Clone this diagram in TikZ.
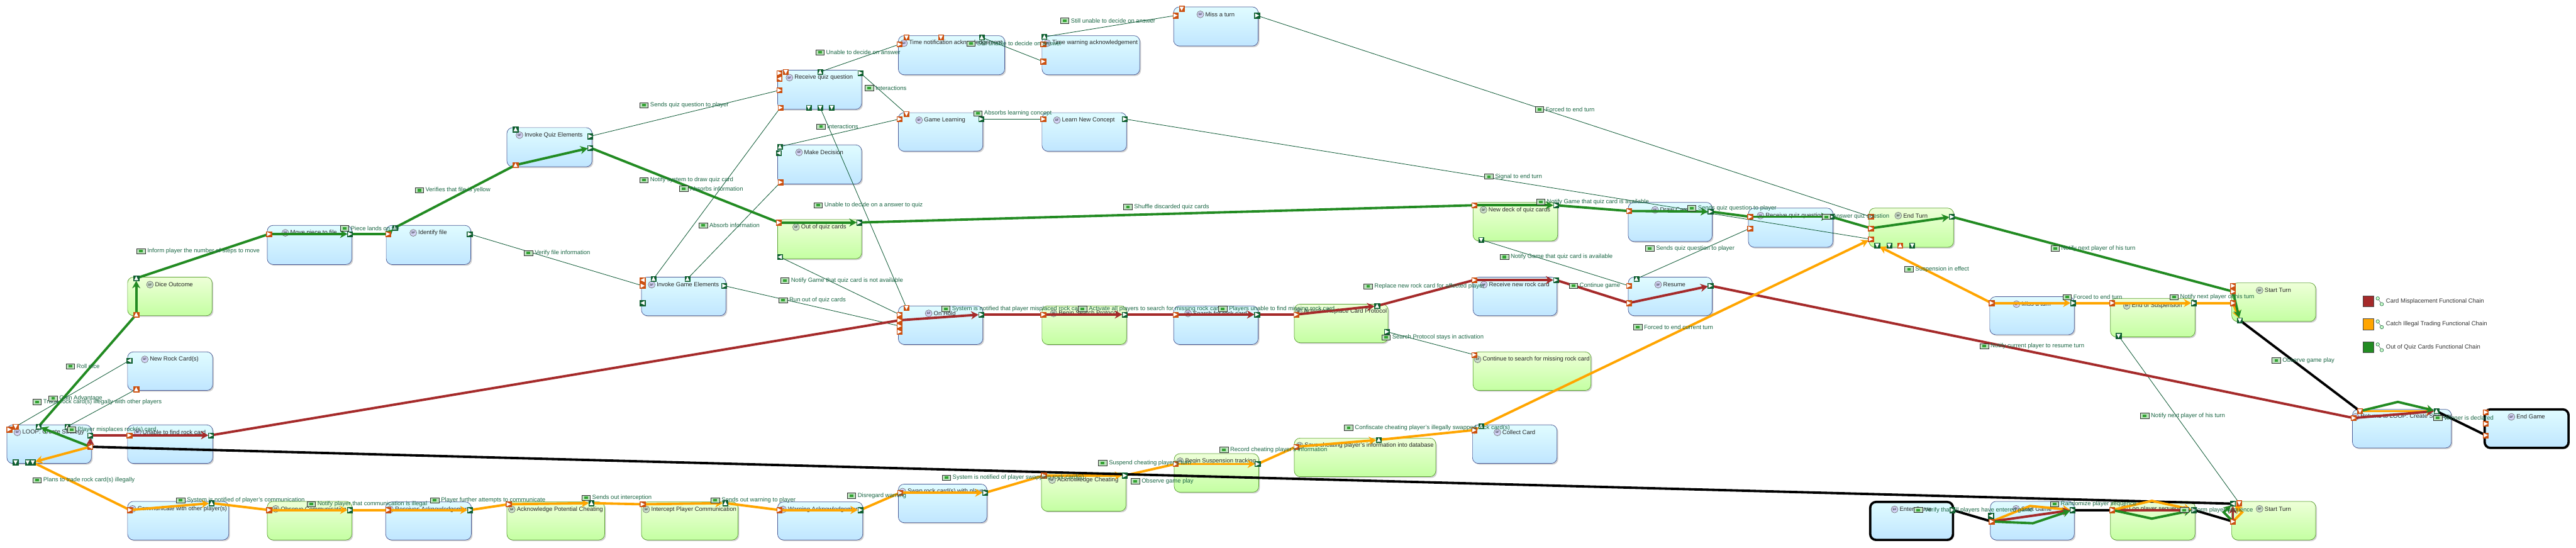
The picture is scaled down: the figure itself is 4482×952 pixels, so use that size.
\documentclass[tikz,border=0pt]{standalone}
\usepackage{fontspec}
\setmainfont{Liberation Sans}
\usetikzlibrary{arrows.meta,shadows}
\definecolor{cbrown}{HTML}{A52A2A}
\definecolor{corange}{HTML}{FFA500}
\definecolor{cgreen}{HTML}{228B22}
\definecolor{ctxt}{HTML}{1A6644}
\definecolor{cthin}{HTML}{0E5A35}
\definecolor{cpout}{HTML}{0F5F30}
\definecolor{cpin}{HTML}{CC5010}
\definecolor{DBFBFF}{HTML}{E0FCFF}
\definecolor{BDE3FF}{HTML}{C0E6FF}
\definecolor{EAFFD2}{HTML}{EEFFD8}
\definecolor{BEFF98}{HTML}{C4FFA2}
\definecolor{cbluebd}{HTML}{4A5A96}
\definecolor{cgreenbd}{HTML}{5CA232}
\definecolor{ciconf}{HTML}{8FCF8F}
\pgfdeclarelayer{bg}\pgfdeclarelayer{fg}\pgfsetlayers{bg,main,fg}
\newcounter{lb}
\tikzset{
 boxbase/.style={rectangle,inner sep=0pt,rounded corners=5pt,line width=.4pt,drop shadow={shadow xshift=1.1pt,shadow yshift=-1.1pt,opacity=.18,fill=black}},
 boxb/.style={boxbase,draw=cbluebd,top color=DBFBFF,bottom color=BDE3FF},
 boxg/.style={boxbase,draw=cgreenbd,top color=EAFFD2,bottom color=BEFF98},
 boxk/.style={boxb,draw=black,line width=2pt},
 titletxt/.style={inner sep=0pt,font=\fontsize{5.2}{6}\selectfont,text=black!85},
 sficon/.style={circle,draw=black!60,fill=black!25!blue!18!white,inner sep=0pt,minimum size=6pt,line width=.3pt,font=\fontsize{2.6}{3}\selectfont},
 sficong/.style={sficon,fill=green!35!black!22!white},
 portin/.style={rectangle,draw=cpin,fill=cpin,minimum size=4.5pt,inner sep=0pt,line width=.2pt},
 portout/.style={rectangle,draw=cpout,fill=cpout,minimum size=4.5pt,inner sep=0pt,line width=.2pt},
 lbltxt/.style={anchor=west,inner sep=0pt,font=\fontsize{5.2}{6}\selectfont,text=ctxt},
 lblicon/.style={rectangle,draw=black!80,fill=ciconf!60!white,minimum width=7.4pt,minimum height=4.6pt,inner sep=0pt,line width=.35pt},
 thinedge/.style={line width=.45pt,color=cthin},
 chk/.style={line width=2.1pt,color=#1,line join=miter},
 chka/.style={chk=#1,-{Stealth[length=6.5pt,width=7pt]},shorten >=2.2pt},
}
% box: name, style, x1,y1,x2,y2, title, icon style
\newcommand{\bx}[8]{%
 \pgfmathsetmacro{\bw}{(#5-#3)/2}\pgfmathsetmacro{\bh}{(#6-#4)/2}%
 \pgfmathsetmacro{\cxx}{(#3+#5)/2}\pgfmathsetmacro{\cyy}{(#4+#6)/2}\pgfmathsetmacro{\tyy}{#4+13}%
 \begin{pgfonlayer}{bg}
 \node[#2,minimum width=\bw pt,minimum height=\bh pt] (#1) at (\cxx,\cyy) {};
 \node[titletxt] (#1t) at (\cxx,\tyy) {\hspace*{7.2pt}#7};
 \node[#8] (#1i) at ([xshift=3pt]#1t.west) {SF};
 \end{pgfonlayer}}
\newcommand{\pp}[5]{% name x y type angle
 \begin{pgfonlayer}{fg}
 \node[port#4] (#1) at (#2,#3) {};
 \fill[white,shift={(#2,#3)},rotate=#5] (-1.7pt,1.8pt) -- (1.9pt,0pt) -- (-1.7pt,-1.8pt) -- cycle;
 \end{pgfonlayer}}
\newcommand{\lab}[3]{%
 \stepcounter{lb}\pgfmathsetmacro{\lxx}{#1+7.5}\pgfmathsetmacro{\lxt}{#1+18}%
 \begin{pgfonlayer}{fg}
 \node[lblicon] (li\thelb) at (\lxx,#2) {};
 \fill[green!55!black!80!white] (\lxx,#2) ++(-1.6pt,-1.1pt) rectangle ++(3.2pt,2.2pt);
 \node[lbltxt] (lt\thelb) at (\lxt,#2) {#3};
 \end{pgfonlayer}}
\newcommand{\tn}[2]{\draw[thinedge] (#1.center) -- (#2.center);}
\newcommand{\ck}[3]{\draw[chk=#1] (#2.center) -- (#3.center);}
\newcommand{\ca}[3]{\draw[chka=#1] (#2.center) -- (#3.center);}
\begin{document}
\begin{tikzpicture}[x=.5pt,y=-.5pt]
\useasboundingbox (0,0) rectangle (4482,952);
\begin{pgfonlayer}{bg}
\fill[white] (0,0) rectangle (4482,952);
\end{pgfonlayer}
% ---------- boxes
\bx{bLoop}{boxb}{12}{739}{159}{806}{LOOP: Create Strategy}{sficon}
\bx{bUnable}{boxb}{222}{739}{370}{806}{Unable to find rock card}{sficon}
\bx{bNew}{boxb}{222}{612}{370}{679}{New Rock Card(s)}{sficon}
\bx{bDice}{boxg}{222}{482}{369}{549}{Dice Outcome}{sficong}
\bx{bComm}{boxb}{222}{872}{398}{939}{Communicate with other player(s)}{sficon}
\bx{bObs}{boxg}{465}{872}{612}{939}{Observe Communication}{sficong}
\bx{bRecA}{boxb}{671}{873}{820}{939}{Receives Acknowledgement}{sficon}
\bx{bAckP}{boxg}{882}{873}{1052}{939}{Acknowledge Potential Cheating}{sficong}
\bx{bInt}{boxg}{1116}{873}{1284}{939}{Intercept Player Communication}{sficong}
\bx{bWarn}{boxb}{1353}{873}{1501}{939}{Warning Acknowledgement}{sficon}
\bx{bSwap}{boxb}{1563}{842}{1717}{909}{Swap rock card(s) with player}{sficon}
\bx{bAckC}{boxg}{1812}{822}{1959}{889}{Acknowledge Cheating}{sficong}
\bx{bSusp}{boxg}{2043}{789}{2190}{856}{Begin Suspension tracking}{sficong}
\bx{bSave}{boxg}{2252}{762}{2498}{829}{Save cheating player's information into database}{sficong}
\bx{bColl}{boxb}{2562}{739}{2709}{806}{Collect Card}{sficon}
\bx{bMove}{boxb}{465}{392}{612}{460}{Move piece to file}{sficon}
\bx{bIdent}{boxb}{672}{392}{819}{460}{Identify file}{sficon}
\bx{bQuiz}{boxb}{882}{222}{1030}{290}{Invoke Quiz Elements}{sficon}
\bx{bGame}{boxb}{1116}{482}{1263}{549}{Invoke Game Elements}{sficon}
\bx{bDecide}{boxb}{1353}{252}{1499}{320}{Make Decision}{sficon}
\bx{bOut}{boxg}{1353}{382}{1499}{450}{Out of quiz cards}{sficong}
\bx{bRecQ}{boxb}{1353}{122}{1499}{190}{Receive quiz question}{sficon}
\bx{bTime}{boxb}{1563}{62}{1748}{130}{Time notification acknowledgement}{sficon}
\bx{bLearnG}{boxb}{1563}{196}{1710}{263}{Game Learning}{sficon}
\bx{bTimeW}{boxb}{1813}{62}{1983}{130}{Time warning acknowledgement}{sficon}
\bx{bLearn}{boxb}{1813}{196}{1960}{263}{Learn New Concept}{sficon}
\bx{bMiss}{boxb}{2042}{12}{2189}{80}{Miss a turn}{sficon}
\bx{bHold}{boxb}{1563}{532}{1710}{599}{On Hold}{sficon}
\bx{bSearchP}{boxg}{1813}{532}{1960}{599}{Begin Search Protocol}{sficong}
\bx{bSearch}{boxb}{2042}{532}{2189}{599}{Search for rock card}{sficon}
\bx{bRepl}{boxg}{2252}{529}{2415}{596}{Activate Replace Card Protocol}{sficong}
\bx{bRecv}{boxb}{2563}{482}{2709}{549}{Receive new rock card}{sficon}
\bx{bCont}{boxg}{2563}{612}{2768}{679}{Continue to search for missing rock card}{sficong}
\bx{bDeck}{boxg}{2563}{352}{2710}{419}{New deck of quiz cards}{sficong}
\bx{bRes}{boxb}{2833}{482}{2979}{549}{Resume}{sficon}
\bx{bDraw}{boxb}{2833}{352}{2979}{420}{Draw Card}{sficon}
\bx{bRecQb}{boxb}{3042}{362}{3189}{430}{Receive quiz question}{sficon}
\bx{bEnd}{boxg}{3252}{362}{3399}{430}{End Turn}{sficong}
\bx{bMissb}{boxb}{3462}{516}{3609}{582}{Miss a turn}{sficon}
\bx{bEoS}{boxg}{3672}{519}{3819}{586}{End of Suspension}{sficong}
\bx{bStart}{boxg}{3883}{492}{4029}{559}{Start Turn}{sficong}
\bx{bRet}{boxb}{4093}{712}{4265}{779}{Returns to LOOP: Create Strategy}{sficon}
\bx{bEndG}{boxk}{4323}{712}{4469}{779}{End Game}{sficon}
\bx{bEnter}{boxk}{3254}{873}{3398}{939}{Enter Game}{sficon}
\bx{bSG}{boxb}{3463}{872}{3609}{939}{Start Game}{sficon}
\bx{bLog}{boxg}{3672}{872}{3819}{939}{Log player sequence}{sficong}
\bx{bStartb}{boxg}{3883}{872}{4029}{939}{Start Turn}{sficong}
% ---------- ports
\pp{La}{16}{747}{in}{0}\pp{Lb}{27}{742}{in}{-90}\pp{Lc}{67}{742}{out}{90}\pp{Ld}{117}{742}{out}{90}
\pp{Le}{157}{757}{out}{0}\pp{Lf}{157}{777}{in}{180}\pp{Lg}{27}{804}{out}{-90}\pp{Lh}{48}{804}{out}{-90}\pp{Li}{57}{804}{out}{-90}
\pp{Ua}{225}{757}{in}{0}\pp{Ub}{367}{757}{out}{0}
\pp{Na}{225}{627}{out}{180}\pp{Nb}{237}{677}{in}{90}
\pp{Da}{237}{547}{in}{90}\pp{Db}{237}{484}{out}{90}
\pp{Ca}{226}{887}{in}{0}\pp{Cb}{368}{875}{out}{90}
\pp{Oa}{468}{887}{in}{0}\pp{Ob}{609}{887}{out}{0}
\pp{Ra}{675}{887}{in}{0}\pp{Rb}{818}{887}{out}{0}
\pp{Pa}{885}{877}{in}{0}\pp{Pb}{1029}{875}{out}{90}
\pp{Ia}{1118}{877}{in}{0}\pp{Ib}{1262}{875}{out}{90}
\pp{Wa}{1356}{887}{in}{0}\pp{Wb}{1497}{887}{out}{0}
\pp{Sa}{1566}{857}{in}{0}\pp{Sb}{1714}{857}{out}{0}
\pp{Aa}{1816}{827}{in}{0}\pp{Ab}{1957}{827}{out}{0}
\pp{Ta}{2045}{807}{in}{0}\pp{Tb}{2188}{807}{out}{0}
\pp{Va}{2255}{777}{in}{0}\pp{Vb}{2399}{765}{out}{90}
\pp{Ka}{2565}{748}{in}{0}\pp{Kb}{2577}{741}{out}{90}
\pp{Ma}{468}{407}{in}{0}\pp{Mb}{609}{407}{out}{0}
\pp{Ea}{675}{407}{in}{0}\pp{Eb}{687}{396}{out}{90}\pp{Ec}{817}{407}{out}{0}
\pp{Qa}{897}{287}{in}{90}\pp{Qb}{1027}{257}{out}{0}\pp{Qc}{1027}{237}{out}{0}\pp{Qd}{897}{225}{out}{90}
\pp{Ga}{1118}{487}{in}{180}\pp{Gb}{1118}{497}{in}{0}\pp{Gc}{1137}{485}{out}{90}\pp{Gd}{1196}{485}{out}{90}\pp{Ge}{1118}{527}{out}{180}\pp{Gf}{1260}{497}{out}{0}
\pp{Xa}{1355}{387}{in}{0}\pp{Xb}{1495}{387}{out}{0}\pp{Xc}{1357}{447}{out}{180}
\pp{Ya}{1357}{255}{out}{90}\pp{Yb}{1355}{266}{out}{180}\pp{Yc}{1358}{317}{in}{0}
\pp{Za}{1356}{127}{in}{0}\pp{Zb}{1356}{137}{in}{180}\pp{Zc}{1356}{157}{in}{0}\pp{Zd}{1358}{187}{in}{0}\pp{Ze}{1367}{125}{in}{-90}
\pp{Zf}{1427}{125}{out}{90}\pp{Zg}{1497}{127}{out}{0}\pp{Zh}{1407}{187}{out}{-90}\pp{Zi}{1427}{187}{out}{-90}\pp{Zj}{1447}{187}{out}{-90}
\pp{Bz}{1565}{77}{in}{0}\pp{By}{1577}{65}{in}{-90}\pp{Bx}{1637}{65}{in}{-90}\pp{Bw}{1708}{65}{out}{90}
\pp{Cz}{1815}{107}{in}{0}\pp{Cy}{1815}{77}{in}{0}\pp{Cx}{1817}{64}{out}{90}
\pp{Mc}{2045}{27}{in}{0}\pp{Md}{2056}{15}{in}{-90}\pp{Me}{2187}{27}{out}{0}
\pp{Fa}{1577}{198}{in}{-90}\pp{Fb}{1565}{207}{in}{0}\pp{Fc}{1707}{207}{out}{0}
\pp{Ja}{1815}{207}{in}{0}\pp{Jb}{1957}{207}{out}{0}
\pp{Ha}{1565}{547}{in}{0}\pp{Hb}{1565}{557}{in}{0}\pp{Hc}{1565}{567}{in}{0}\pp{Hd}{1565}{577}{in}{0}\pp{He}{1577}{535}{in}{-90}\pp{Hf}{1707}{547}{out}{0}
\pp{Aq}{1815}{547}{in}{0}\pp{Ar}{1957}{547}{out}{0}
\pp{As}{2045}{547}{in}{0}\pp{At}{2187}{547}{out}{0}
\pp{Au}{2255}{547}{in}{0}\pp{Av}{2396}{532}{out}{90}\pp{Aw}{2413}{577}{out}{0}
\pp{Bq}{2565}{487}{in}{0}\pp{Br}{2707}{487}{out}{0}
\pp{Bs}{2565}{617}{in}{0}
\pp{Dc}{2565}{357}{in}{0}\pp{Dd}{2707}{357}{out}{0}\pp{De}{2577}{417}{out}{-90}
\pp{Dr}{2834}{367}{in}{0}\pp{Ds}{2976}{368}{out}{0}
\pp{Rc}{2834}{497}{in}{0}\pp{Rd}{2834}{527}{in}{0}\pp{Re}{2847}{485}{out}{90}\pp{Rf}{2976}{497}{out}{0}
\pp{Qe}{3045}{377}{in}{0}\pp{Qf}{3045}{397}{in}{0}\pp{Qg}{3186}{377}{out}{0}
\pp{Ef}{3255}{377}{in}{0}\pp{Eg}{3255}{397}{in}{0}\pp{Eh}{3255}{416}{in}{0}\pp{Ei}{3396}{377}{out}{0}
\pp{Ej}{3266}{427}{out}{-90}\pp{Ek}{3287}{427}{out}{-90}\pp{El}{3306}{427}{in}{90}\pp{Em}{3327}{427}{out}{-90}
\pp{Ms}{3465}{527}{in}{0}\pp{Mt}{3607}{527}{out}{0}
\pp{Sc}{3675}{527}{in}{0}\pp{Sd}{3817}{527}{out}{0}\pp{Se}{3686}{584}{out}{-90}
\pp{Tc}{3885}{497}{in}{0}\pp{Td}{3885}{507}{in}{0}\pp{Te}{3885}{527}{in}{0}\pp{Tf}{3897}{557}{out}{-90}
\pp{Rg}{4095}{727}{in}{0}\pp{Rh}{4106}{715}{in}{-90}\pp{Ri}{4239}{715}{out}{90}
\pp{Ga2}{4325}{717}{in}{0}\pp{Gb2}{4325}{737}{in}{0}\pp{Gc2}{4325}{757}{in}{0}
\pp{Ne}{3397}{887}{out}{0}
\pp{Sf}{3465}{907}{in}{0}\pp{Sg}{3464}{897}{out}{180}\pp{Sh}{3606}{887}{out}{0}
\pp{Lk}{3675}{887}{in}{0}\pp{Ll}{3817}{887}{out}{0}
\pp{Tg}{3885}{907}{in}{0}\pp{Th}{3885}{876}{out}{180}\pp{Ti}{3896}{875}{in}{-90}
% ---------- thin connectors
\tn{Lb}{Na}\tn{Ld}{Nb}
\tn{Qc}{Zc}\tn{Ec}{Gb}\tn{Gc}{Zd}\tn{Gd}{Yc}\tn{Gf}{Hc}\tn{Xc}{Ha}\tn{Zi}{He}
\tn{Zf}{Bz}\tn{Bw}{Cz}\tn{Cx}{Mc}\tn{Me}{Ef}\tn{Zg}{Fa}\tn{Ya}{Fb}\tn{Fc}{Ja}\tn{Jb}{Eh}
\tn{Aw}{Bs}\tn{De}{Rc}\tn{Re}{Qf}\tn{Se}{Ti}
% ---------- functional chains: green
\ca{cgreen}{Lf}{Lc}\ck{cgreen}{Lc}{Da}\ca{cgreen}{Da}{Db}\ck{cgreen}{Db}{Ma}\ca{cgreen}{Ma}{Mb}\ck{cgreen}{Mb}{Ea}\ca{cgreen}{Ea}{Eb}
\ck{cgreen}{Eb}{Qa}\ca{cgreen}{Qa}{Qb}\ck{cgreen}{Qb}{Xa}\ca{cgreen}{Xa}{Xb}\ck{cgreen}{Xb}{Dc}\ca{cgreen}{Dc}{Dd}\ck{cgreen}{Dd}{Dr}\ca{cgreen}{Dr}{Ds}
\ck{cgreen}{Ds}{Qe}\ca{cgreen}{Qe}{Qg}\ck{cgreen}{Qg}{Eg}\ca{cgreen}{Eg}{Ei}\ck{cgreen}{Ei}{Td}
% ---------- brown
\ca{cbrown}{Lf}{Le}\ck{cbrown}{Le}{Ua}\ca{cbrown}{Ua}{Ub}\ck{cbrown}{Ub}{Hb}\ca{cbrown}{Hb}{Hf}\ck{cbrown}{Hf}{Aq}\ca{cbrown}{Aq}{Ar}\ck{cbrown}{Ar}{As}\ca{cbrown}{As}{At}
\ck{cbrown}{At}{Au}\ca{cbrown}{Au}{Av}\ck{cbrown}{Av}{Bq}\ca{cbrown}{Bq}{Br}\ck{cbrown}{Br}{Rd}\ca{cbrown}{Rd}{Rf}\ck{cbrown}{Rf}{Rg}
% ---------- orange
\ca{corange}{Lf}{Li}\ck{corange}{Li}{Ca}\ca{corange}{Ca}{Cb}\ck{corange}{Cb}{Oa}\ca{corange}{Oa}{Ob}\ck{corange}{Ob}{Ra}\ca{corange}{Ra}{Rb}\ck{corange}{Rb}{Pa}
\ca{corange}{Pa}{Pb}\ck{corange}{Pb}{Ia}\ca{corange}{Ia}{Ib}\ck{corange}{Ib}{Wa}\ca{corange}{Wa}{Wb}\ck{corange}{Wb}{Sa}\ca{corange}{Sa}{Sb}\ck{corange}{Sb}{Aa}
\ca{corange}{Aa}{Ab}\ck{corange}{Ab}{Ta}\ca{corange}{Ta}{Tb}\ck{corange}{Tb}{Va}\ca{corange}{Va}{Vb}\ck{corange}{Vb}{Ka}\ca{corange}{Ka}{Kb}\ca{corange}{Kb}{Eh}
\ca{corange}{Ms}{Ej}\ca{corange}{Ms}{Mt}\ck{corange}{Mt}{Sc}\ca{corange}{Sc}{Sd}\ck{corange}{Sd}{Te}\ca{corange}{Te}{Tf}
% ---------- green arrow into Tf
\ca{cgreen}{Td}{Tf}
% ---------- black
\ck{black}{Lf}{Th}\ck{black}{Tf}{Rh}\ck{black}{Ri}{Gc2}\ck{black}{Ne}{Sf}\ck{black}{Sh}{Lk}\ck{black}{Ll}{Tg}
% ---------- chains inside the last boxes
\coordinate (c1) at (3532,880);\coordinate (c2) at (3537,910);
\coordinate (c3) at (3744,871);\coordinate (c4) at (3744,902);
\coordinate (c5) at (3869,891);\coordinate (c6) at (3901,891);
\coordinate (c7) at (4172,699);
\draw[chka=corange] (Sf.center) -- (c1) -- (Sh.center);
\ca{cbrown}{Sf}{Sh}
\draw[chka=cgreen] (Sf.center) -- (c2) -- (Sh.center);
\ca{cbrown}{Lk}{Ll}
\draw[chka=corange] (Lk.center) -- (c3) -- (Ll.center);
\draw[chka=cgreen] (Lk.center) -- (c4) -- (Ll.center);
\ca{cbrown}{Tg}{Th}
\draw[chka=cgreen] (Tg.center) -- (c5) -- (Th.center);
\draw[chka=corange] (Tg.center) -- (c6) -- (Th.center);
\ca{corange}{Rh}{Ri}
\ca{cbrown}{Rg}{Ri}
\draw[chka=cgreen] (Rh.center) -- (c7) -- (Ri.center);
% ---------- labels
\lab{57}{699}{Trade rock card(s) illegally with other players}
\lab{85}{693}{Gain Advantage}
\lab{115}{637}{Roll dice}
\lab{117}{747}{Player misplaces rock(s) card}
\lab{57}{835}{Plans to trade rock card(s) illegally}
\lab{238}{437}{Inform player the number of steps to move}
\lab{592}{397}{Piece lands on file}
\lab{722}{331}{Verifies that file is yellow}
\lab{1113}{183}{Sends quiz question to player}
\lab{1113}{313}{Notify system to draw quiz card}
\lab{1182}{328}{Absorbs information}
\lab{1216}{392}{Absorb information}
\lab{912}{440}{Verify file information}
\lab{1355}{522}{Run out of quiz cards}
\lab{1358}{488}{Notify Game that quiz card is not available}
\lab{1416}{357}{Unable to decide on a answer to quiz}
\lab{1419}{91}{Unable to decide on answer}
\lab{1505}{153}{Interactions}
\lab{1421}{220}{Interactions}
\lab{1682}{76}{Still unable to decide on answer}
\lab{1845}{36}{Still unable to decide on answer}
\lab{1694}{197}{Absorbs learning concept}
\lab{2671}{190}{Forced to end turn}
\lab{2583}{307}{Signal to end turn}
\lab{1955}{360}{Shuffle discarded quiz cards}
\lab{2673}{351}{Notify Game that quiz card is available}
\lab{2936}{362}{Sends quiz question to player}
\lab{3170}{377}{Answer quiz question}
\lab{3568}{432}{Notify next player of his turn}
\lab{2610}{447}{Notify Game that quiz card is available}
\lab{2730}{497}{Continue game}
\lab{3445}{602}{Notify current player to resume turn}
\lab{2863}{432}{Sends quiz question to player}
\lab{2842}{569}{Forced to end current turn}
\lab{3314}{468}{Suspension in effect}
\lab{2339}{744}{Confiscate cheating player's illegally swapped rock card(s)}
\lab{2122}{782}{Record cheating player's information}
\lab{1911}{805}{Suspend cheating player's turn}
\lab{1968}{837}{Observe game play}
\lab{1639}{831}{System is notified of player swapping rock card(s)}
\lab{1474}{862}{Disregard warning}
\lab{1237}{870}{Sends out warning to player}
\lab{1012}{866}{Sends out interception}
\lab{749}{870}{Player further attempts to communicate}
\lab{534}{877}{Notify player that communication is illegal}
\lab{307}{870}{System is notified of player's communication}
\lab{1638}{537}{System is notified that player misplaced rock card}
\lab{1876}{537}{Activate all players to search for missing rock cards}
\lab{2120}{537}{Players unable to find missing rock card}
\lab{2404}{587}{Search Protocol stays in activation}
\lab{2373}{498}{Replace new rock card for affected player}
\lab{3589}{517}{Forced to end turn}
\lab{3775}{517}{Notify next player of his turn}
\lab{3724}{723}{Notify next player of his turn}
\lab{3953}{627}{Observe game play}
\lab{4234}{727}{Winner is declared}
\lab{3330}{887}{Verify that all players have entered game}
\lab{3567}{877}{Randomize player sequence}
\lab{3793}{887}{Inform player sequence}
% ---------- legend
\begin{pgfonlayer}{fg}
\foreach \ly/\lc/\ln/\lt in {524/cbrown/la/Card Misplacement Functional Chain,564/corange/lo/Catch Illegal Trading Functional Chain,604/cgreen/lg/Out of Quiz Cards Functional Chain}{
 \pgfmathsetmacro{\lyt}{\ly}
 \node[rectangle,fill=\lc,draw=black!70,line width=.4pt,minimum width=9.5pt,minimum height=9.5pt,inner sep=0pt] (\ln s) at (4121,\lyt) {};
 \node[circle,fill=green!20!white,draw=cthin,line width=.3pt,inner sep=0pt,minimum size=3pt] (\ln a) at (4137,\lyt-5) {};
 \node[circle,fill=green!20!white,draw=cthin,line width=.3pt,inner sep=0pt,minimum size=3pt] (\ln b) at (4144,\lyt+5) {};
 \draw[line width=.3pt,color=black!70] (\ln a) -- (\ln b);
 \node[lbltxt,text=black!80] (\ln t) at (4151,\lyt) {\lt};
}
\end{pgfonlayer}
\end{tikzpicture}
\end{document}
